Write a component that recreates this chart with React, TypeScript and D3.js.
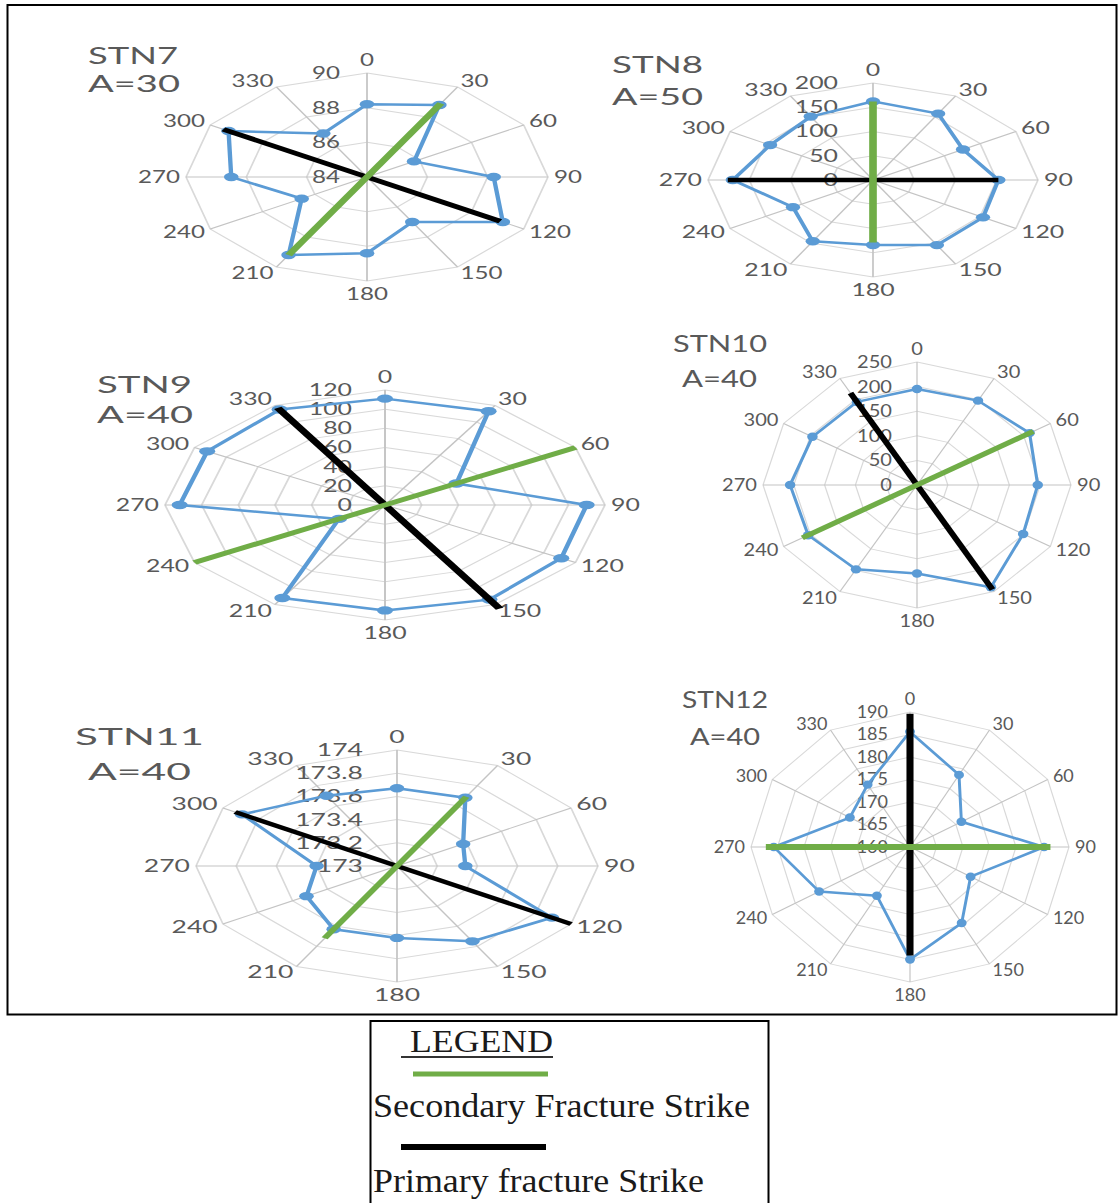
import React from "react";
import * as d3 from "d3";

// Strike directions (degrees, clockwise from north)
const DIRECTIONS = [0, 30, 60, 90, 120, 150, 180, 210, 240, 270, 300, 330];

// Fracture counts per direction for each station
const stn7Values = [88.2, 88.8, 85.8, 88.2, 89.2, 87.0, 88.4, 89.2, 86.5, 88.5, 89.3, 86.9];
const stn8Values = [162, 158, 126, 152, 154, 155, 134, 146, 112, 170, 144, 151];
const stn9Values = [111, 113, 45, 110, 111, 114, 110, 112, 29, 112, 112, 115];
const stn10Values = [195, 198, 211, 196, 199, 240, 180, 198, 204, 206, 196, 195];
const stn11Values = [173.67, 173.68, 173.38, 173.34, 173.89, 173.75, 173.62, 173.63, 173.52, 173.4, 173.89, 173.7];
const stn12Values = [185.6, 178.5, 171.2, 185.3, 173.2, 179.5, 185.0, 172.5, 179.8, 185.7, 173.1, 176.0];

// Radial axis ticks per station
const stn7Ticks = [84, 86, 88, 90];
const stn8Ticks = [0, 50, 100, 150, 200];
const stn9Ticks = [0, 20, 40, 60, 80, 100, 120];
const stn10Ticks = [0, 50, 100, 150, 200, 250];
const stn11Ticks = [173, 173.2, 173.4, 173.6, 173.8, 174];
const stn12Ticks = [160, 165, 170, 175, 180, 185, 190];

// Strike lines: [direction A, value A, direction B, value B]
const stn7Primary = [300, 89.5, 120, 89.1];
const stn7Secondary = [30, 88.9, 210, 89.2];
const stn8Primary = [270, 176, 90, 152];
const stn8Secondary = [0, 162, 180, 129];
const stn9Primary = [330, 117, 150, 125];
const stn9Secondary = [60, 120, 240, 120];
const stn10Primary = [330, 216, 150, 245];
const stn10Secondary = [60, 218, 240, 215];
const stn11Primary = [300, 173.93, 120, 174.0];
const stn11Secondary = [30, 173.69, 210, 173.72];
const stn12Primary = [0, 189.6, 180, 184.1];
const stn12Secondary = [270, 187.2, 90, 186.5];

// Station names and apertures
const stationNames = ["STN7", "STN8", "STN9", "STN10", "STN11", "STN12"];
const apertureLabels = ["A=30", "A=50", "A=40", "A=40", "A=40", "A=40"];

const legendLabels = ["LEGEND", "Secondary Fracture Strike", "Primary fracture Strike"];

const BLUE = "#5b9bd5";
const GREEN = "#70ad47";
const GREY_TEXT = "#595959";
const LABEL_FONT = "Lato, 'Open Sans', sans-serif";
const LABEL_SIZE = 17;

type Layout = {
  cx: number; cy: number; rx: number; ry: number;
  tickGap: number; textScale: number; strikeWidth: number;
  title: [number, number, number]; aperture: [number, number, number];
};

const layouts: Layout[] = [
  { cx: 367, cy: 177, rx: 181, ry: 104, tickGap: 27, textScale: 1.42, strikeWidth: 4.5, title: [88, 64, 90], aperture: [88, 92, 92] },
  { cx: 873, cy: 180, rx: 165, ry: 97, tickGap: 35, textScale: 1.46, strikeWidth: 4.5, title: [612, 73, 91], aperture: [612, 105, 91] },
  { cx: 385, cy: 505, rx: 220, ry: 115, tickGap: 33, textScale: 1.46, strikeWidth: 4.5, title: [97, 393, 95], aperture: [97, 423, 96] },
  { cx: 917, cy: 485, rx: 154, ry: 123, tickGap: 25, textScale: 1.18, strikeWidth: 5, title: [673, 352, 94], aperture: [682, 387, 75] },
  { cx: 397, cy: 866, rx: 201, ry: 116, tickGap: 34, textScale: 1.56, strikeWidth: 4, title: [75, 745, 129], aperture: [88, 780, 103] },
  { cx: 910, cy: 847, rx: 159, ry: 135, tickGap: 22, textScale: 1.06, strikeWidth: 6, title: [682, 708, 86], aperture: [690, 745, 70] },
];

const stations = [
  { values: stn7Values, ticks: stn7Ticks, primary: stn7Primary, secondary: stn7Secondary },
  { values: stn8Values, ticks: stn8Ticks, primary: stn8Primary, secondary: stn8Secondary },
  { values: stn9Values, ticks: stn9Ticks, primary: stn9Primary, secondary: stn9Secondary },
  { values: stn10Values, ticks: stn10Ticks, primary: stn10Primary, secondary: stn10Secondary },
  { values: stn11Values, ticks: stn11Ticks, primary: stn11Primary, secondary: stn11Secondary },
  { values: stn12Values, ticks: stn12Ticks, primary: stn12Primary, secondary: stn12Secondary },
];

const rad = (deg: number) => (deg * Math.PI) / 180;

function Radar({ index }: { index: number }) {
  const L = layouts[index];
  const S = stations[index];
  const R = L.ry;
  const sx = L.rx / L.ry;
  const domain = [S.ticks[0], S.ticks[S.ticks.length - 1]];
  const r = d3.scaleLinear().domain(domain).range([0, R]);

  const ring = d3
    .lineRadial<number>()
    .angle((d) => rad(d))
    .curve(d3.curveLinearClosed);

  const series = d3
    .lineRadial<number>()
    .angle((_, i) => rad(DIRECTIONS[i]))
    .radius((v) => r(v))
    .curve(d3.curveLinearClosed);

  const strike = (s: number[]) => {
    const a = d3.pointRadial(rad(s[0]), r(s[1]));
    const b = d3.pointRadial(rad(s[2]), r(s[3]));
    return { x1: a[0], y1: a[1], x2: b[0], y2: b[1] };
  };
  const p = strike(S.primary);
  const q = strike(S.secondary);
  const fmt = (v: number) => (Number.isInteger(v) ? String(v) : v.toFixed(1));

  return (
    <g>
      {/* grid, stretched horizontally */}
      <g transform={`translate(${L.cx},${L.cy}) scale(${sx},1)`}>
        {S.ticks.slice(1).map((t) => (
          <path key={t} d={ring.radius(r(t))(DIRECTIONS) || ""} fill="none" stroke="#d9d9d9" strokeWidth={1} />
        ))}
        {DIRECTIONS.map((d) => {
          const [x, y] = d3.pointRadial(rad(d), R);
          return <line key={d} x1={0} y1={0} x2={x} y2={y} stroke="#c4c4c4" strokeWidth={1} />;
        })}
      </g>
      {/* direction labels */}
      {DIRECTIONS.map((d) => {
        const s = Math.sin(rad(d));
        const c = Math.cos(rad(d));
        const vx = L.cx + L.rx * s;
        const vy = L.cy - L.ry * c;
        const vertical = Math.abs(s) < 0.01;
        const x = vx + 6 * s;
        const y = vy - c * 7 - (vertical ? Math.sign(c) * 6 : 0);
        const anchor = s > 0.01 ? "start" : s < -0.01 ? "end" : "middle";
        return (
          <text key={d} transform={`translate(${x},${y}) scale(${L.textScale},1)`} textAnchor={anchor}
            dy="0.35em" fontFamily={LABEL_FONT} fontSize={LABEL_SIZE} fill={GREY_TEXT}>
            {d}
          </text>
        );
      })}
      {/* radial value labels */}
      {S.ticks.map((t) => (
        <text key={t} transform={`translate(${L.cx - L.tickGap},${L.cy - r(t)}) scale(${L.textScale},1)`}
          textAnchor="end" dy="0.35em" fontFamily={LABEL_FONT} fontSize={LABEL_SIZE} fill={GREY_TEXT}>
          {fmt(t)}
        </text>
      ))}
      {/* fracture counts and strike lines */}
      <g transform={`translate(${L.cx},${L.cy}) scale(${sx},1)`}>
        <path d={series(S.values) || ""} fill="none" stroke={BLUE} strokeWidth={2.5} strokeLinejoin="round" />
        {S.values.map((v, i) => {
          const [x, y] = d3.pointRadial(rad(DIRECTIONS[i]), r(v));
          return <circle key={i} cx={x} cy={y} r={4.2} fill={BLUE} />;
        })}
        <line {...p} stroke="#000" strokeWidth={L.strikeWidth} />
        <line {...q} stroke={GREEN} strokeWidth={L.strikeWidth} />
      </g>
      {/* station title */}
      <text x={L.title[0]} y={L.title[1]} textLength={L.title[2]} lengthAdjust="spacingAndGlyphs"
        fontFamily={LABEL_FONT} fontSize={24} fill={GREY_TEXT}>
        {stationNames[index]}
      </text>
      <text x={L.aperture[0]} y={L.aperture[1]} textLength={L.aperture[2]} lengthAdjust="spacingAndGlyphs"
        fontFamily={LABEL_FONT} fontSize={24} fill={GREY_TEXT}>
        {apertureLabels[index]}
      </text>
    </g>
  );
}

export default function App() {
  const serif = "'Liberation Serif', 'Times New Roman', serif";
  return (
    <svg width={1119} height={1203} style={{ position: "absolute", left: 0, top: 0, background: "#fff" }}>
      <rect x={0} y={0} width={1119} height={1203} fill="#fff" />
      <rect x={7.5} y={5} width={1109} height={1009.5} fill="none" stroke="#000" strokeWidth={2} />
      {stations.map((_, i) => (
        <Radar key={i} index={i} />
      ))}
      {/* legend */}
      <rect x={370.5} y={1021} width={398} height={200} fill="none" stroke="#000" strokeWidth={2} />
      <text x={410} y={1052} textLength={143} lengthAdjust="spacingAndGlyphs" fontFamily={serif} fontSize={32} fill="#1a1a1a">
        {legendLabels[0]}
      </text>
      <line x1={401} x2={553} y1={1057} y2={1057} stroke="#333" strokeWidth={2} />
      <line x1={413} x2={548} y1={1074} y2={1074} stroke={GREEN} strokeWidth={5} />
      <text x={373} y={1117} textLength={377} lengthAdjust="spacingAndGlyphs" fontFamily={serif} fontSize={33} fill="#1a1a1a">
        {legendLabels[1]}
      </text>
      <line x1={401} x2={546} y1={1147} y2={1147} stroke="#000" strokeWidth={6} />
      <text x={373} y={1192} textLength={331} lengthAdjust="spacingAndGlyphs" fontFamily={serif} fontSize={33} fill="#1a1a1a">
        {legendLabels[2]}
      </text>
    </svg>
  );
}
